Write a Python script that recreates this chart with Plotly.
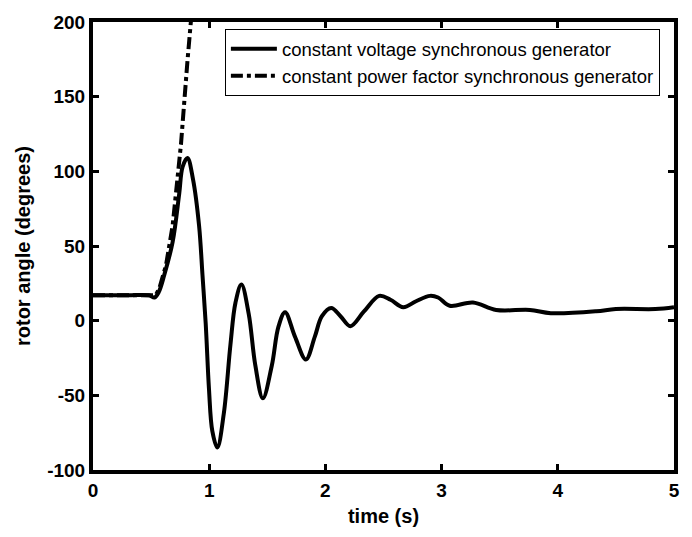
import plotly.graph_objects as go

# constant voltage synchronous generator
t_cv = [0, 0.3, 0.48, 0.529, 0.565, 0.614, 0.685, 0.742, 0.771, 0.813, 0.86, 0.913, 0.942, 0.97,
        0.998, 1.027, 1.07, 1.126, 1.183, 1.226, 1.277, 1.34, 1.397, 1.462, 1.539, 1.596, 1.653,
        1.738, 1.832, 1.909, 1.97, 2.05, 2.13, 2.215, 2.33, 2.463, 2.56, 2.67, 2.78, 2.9, 2.97,
        3.07, 3.27, 3.47, 3.76, 3.94, 4.33, 4.5, 4.84, 5.0]
a_cv = [17, 17, 17, 15.5, 19, 30.8, 52.6, 85, 103, 109, 95, 63.5, 30.8, -2,
        -45.6, -74, -85, -62, -16, 12, 24.2, 4.6, -30, -52, -30, -4, 5.6,
        -10.7, -26, -10.7, 3, 8.5, 3, -3.7, 6, 16.6, 14, 9, 13, 16.6, 15.5,
        10, 12.2, 7.2, 7.2, 5, 6.3, 7.8, 7.8, 9]

# constant power factor synchronous generator
t_pf = [0, 0.3, 0.54, 0.572, 0.628, 0.685, 0.728, 0.757, 0.813, 0.842, 0.87]
a_pf = [17, 17, 17, 22, 37, 63.5, 96, 118, 174, 200, 225]

x_ticks = [0, 1, 2, 3, 4, 5]
x_labels = ["0", "1", "2", "3", "4", "5"]
y_ticks = [-100, -50, 0, 50, 100, 150, 200]
y_labels = ["-100", "-50", "0", "50", "100", "150", "200"]

fig = go.Figure()
fig.add_trace(go.Scatter(x=t_cv, y=a_cv, mode="lines",
                         line=dict(color="black", width=4, shape="spline", smoothing=1.0),
                         name="constant voltage synchronous generator"))
fig.add_trace(go.Scatter(x=t_pf, y=a_pf, mode="lines",
                         line=dict(color="black", width=4, dash="dashdot"),
                         name="constant power factor synchronous generator"))

tick_font = dict(family="Liberation Sans", size=19, color="black", weight="bold")
title_font = dict(family="Liberation Sans", size=20, color="black")
axis_common = dict(showgrid=False, zeroline=False, showline=True, linecolor="black", linewidth=4,
                   mirror="ticks", ticks="inside", ticklen=6, tickwidth=3, tickcolor="black",
                   tickfont=tick_font)

fig.update_xaxes(range=[0, 5], tickvals=x_ticks, ticktext=x_labels,
                 title=dict(text="<b>time (s)</b>", font=title_font, standoff=10),
                 **axis_common)
fig.update_yaxes(range=[-100, 200], tickvals=y_ticks, ticktext=y_labels,
                 title=dict(text="<b>rotor angle (degrees)</b>", font=title_font, standoff=12),
                 **axis_common)

fig.update_layout(width=692, height=537, margin=dict(l=93, r=13, t=15, b=64),
                  plot_bgcolor="white", paper_bgcolor="white", showlegend=True,
                  legend=dict(x=0.227, y=0.984, xanchor="left", yanchor="top", bgcolor="white",
                              bordercolor="black", borderwidth=1,
                              font=dict(family="Liberation Sans", size=18.5, color="black"),
                              tracegroupgap=0, itemwidth=46))

fig.write_html("out.html")
